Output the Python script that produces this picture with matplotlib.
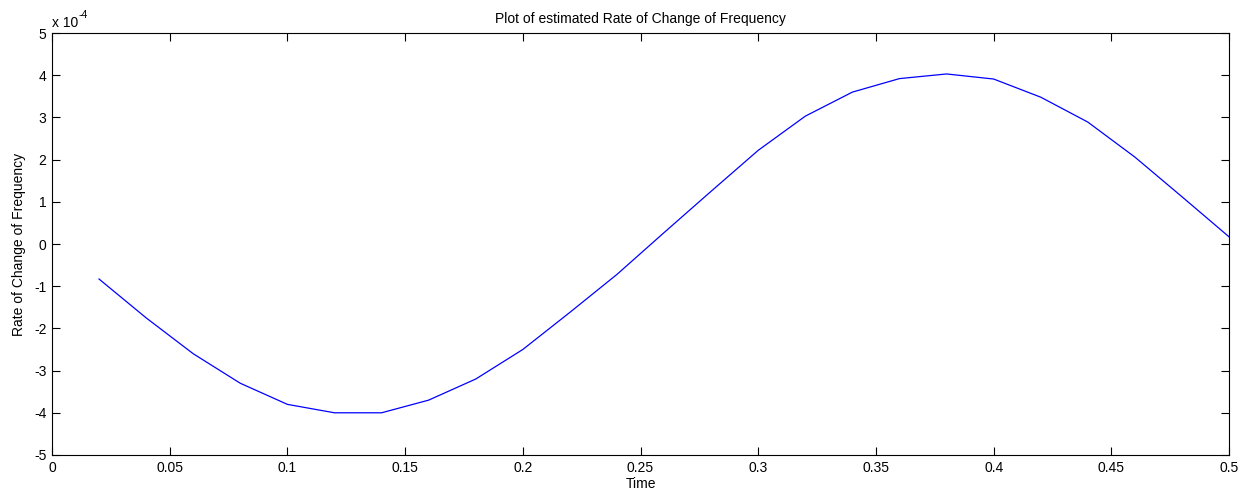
import numpy as np
import matplotlib
matplotlib.use('Agg')
from matplotlib import pyplot as plt
from matplotlib.ticker import FuncFormatter

plt.rcParams['font.family'] = ['Liberation Sans', 'DejaVu Sans']

# time samples and estimated ROCOF (units of 1e-4)
time = [0.02, 0.04, 0.06, 0.08, 0.10, 0.12, 0.14, 0.16, 0.18, 0.20, 0.22, 0.24, 0.26,
        0.28, 0.30, 0.32, 0.34, 0.36, 0.38, 0.40, 0.42, 0.44, 0.46, 0.48, 0.50]
rocof_e4 = [-0.83, -1.75, -2.6, -3.3, -3.8, -4.0, -4.0, -3.7, -3.2, -2.5, -1.62, -0.72, 0.27,
            1.25, 2.22, 3.03, 3.6, 3.92, 4.03, 3.91, 3.48, 2.89, 2.06, 1.12, 0.17]
xticks = [0, 0.05, 0.1, 0.15, 0.2, 0.25, 0.3, 0.35, 0.4, 0.45, 0.5]
yticks = [-5, -4, -3, -2, -1, 0, 1, 2, 3, 4, 5]

rocof = np.array(rocof_e4) * 1e-4

fig = plt.figure(figsize=(12.46, 4.93), dpi=100)
ax = fig.add_axes([0.0417, 0.0771, 0.9447, 0.8559])
ax.plot(time, rocof, color='blue', linewidth=0.9)

ax.set_xlim(0, 0.5)
ax.set_ylim(-5e-4, 5e-4)
ax.set_xticks(xticks)
ax.set_xticklabels([('%g' % t) for t in xticks])
ax.set_yticks(np.array(yticks) * 1e-4)
ax.yaxis.set_major_formatter(FuncFormatter(lambda v, p: '%d' % round(v / 1e-4)))
ax.tick_params(direction='in', top=True, right=True, length=6, width=0.8, labelsize=10, pad=4)
for s in ax.spines.values():
    s.set_linewidth(0.8)

ax.text(0.0, 1.006, 'x 10', transform=ax.transAxes, fontsize=10, ha='left', va='bottom')
ax.text(0.0222, 1.03, '-4', transform=ax.transAxes, fontsize=7.5, ha='left', va='bottom')
ax.set_title('Plot of estimated Rate of Change of Frequency', fontsize=10, pad=7)
ax.set_xlabel('Time', fontsize=10, labelpad=2)
ax.set_ylabel('Rate of Change of Frequency', fontsize=10, labelpad=6)

fig.savefig('out.png', dpi=100)
